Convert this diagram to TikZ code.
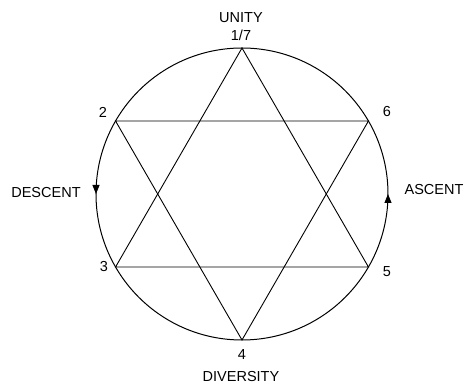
\documentclass[tikz,border=0pt]{standalone}
\usepackage{fontspec}
\setmainfont{Liberation Sans}
\usepackage{tikz}
\usetikzlibrary{arrows.meta, positioning, decorations.markings}
\tikzset{
  ring/.style ={draw, line width=1pt},
  edge/.style ={draw, line width=0.9pt},
  lbl/.style  ={font=\fontsize{14.5}{16}\selectfont, inner sep=0pt},
  dirmark/.style={postaction={decorate}, decoration={markings,
      mark=at position 0.25 with {\arrow{Triangle[length=9pt, width=7pt]}},
      mark=at position 0.75 with {\arrow{Triangle[length=9pt, width=7pt]}}}},
}

\begin{document}
\begin{tikzpicture}[x=1pt, y=1pt]
  \useasboundingbox (-242,-191) rectangle (222,194);
  % circle, drawn from the bottom so the marks sit left and right
  \draw[ring, dirmark] (270:146) arc[start angle=270, end angle=630, radius=146];
  % points of the star
  \coordinate (top) at (90:146);
  \coordinate (p2)  at (150:146);
  \coordinate (p3)  at (210:146);
  \coordinate (bot) at (270:146);
  \coordinate (p5)  at (330:146);
  \coordinate (p6)  at (30:146);
  \draw[edge] (top) -- (p3) -- (p5) -- cycle;
  \draw[edge] (bot) -- (p2) -- (p6) -- cycle;
  \node[lbl] (n17) at (-1,159) {1/7};
  \node[lbl] (unity) at (-1,176) {UNITY};
  \node[lbl] (n2) at (-139,82) {2};
  \node[lbl] (n6) at (145,82) {6};
  \node[lbl] (n3) at (-138,-73) {3};
  \node[lbl] (n5) at (145,-78) {5};
  \node[lbl] (n4) at (0,-161) {4};
  \node[lbl] (div) at (-1,-183) {DIVERSITY};
  \node[lbl] (desc) at (-196,1) {DESCENT};
  \node[lbl] (asc) at (192,4) {ASCENT};
\end{tikzpicture}
\end{document}
